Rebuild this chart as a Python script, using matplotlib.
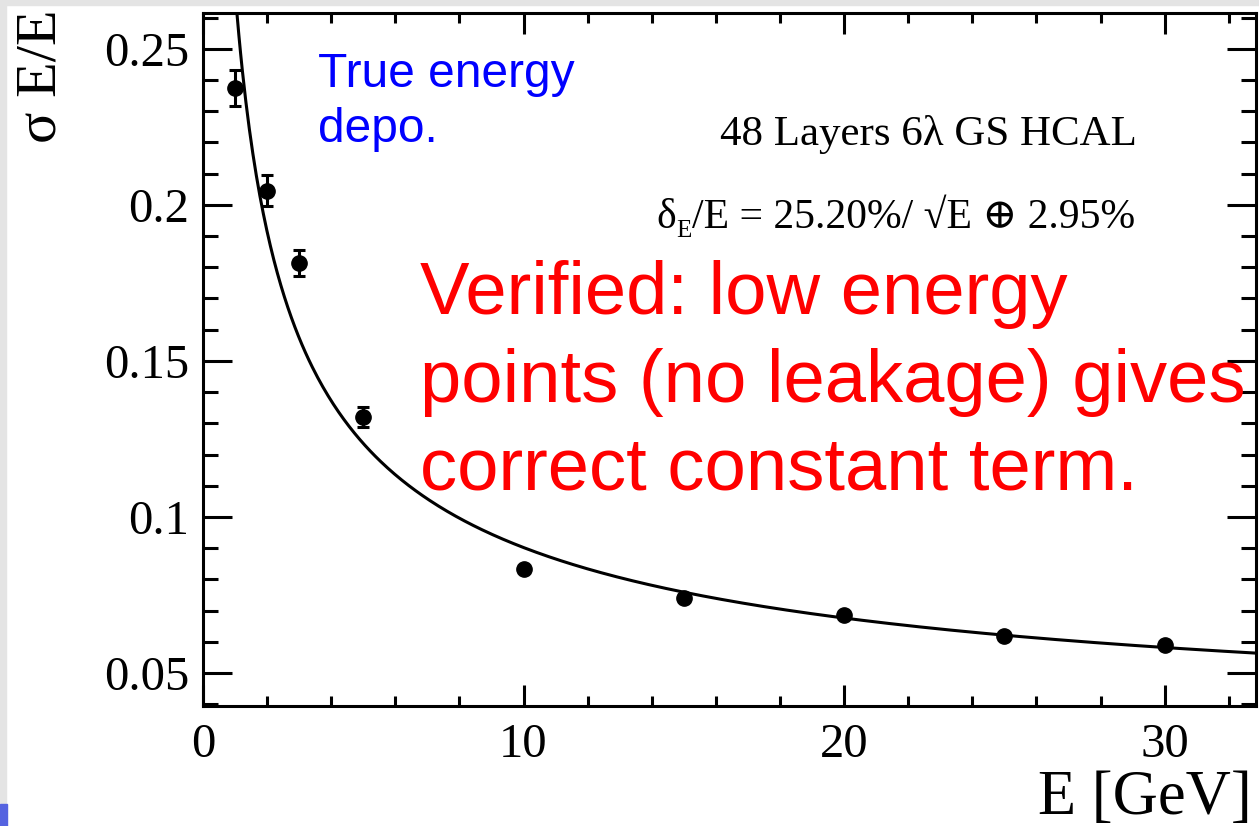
import numpy as np
import matplotlib
matplotlib.use("Agg")
import matplotlib.pyplot as plt
from matplotlib.patches import Rectangle

# data
energy = [1, 2, 3, 5, 10, 15, 20, 25, 30]
resolution = [0.2375, 0.2045, 0.1814, 0.132, 0.0833, 0.074, 0.0686, 0.0618, 0.059]
res_err = [0.0058, 0.0050, 0.0043, 0.0031, 0.0010, 0.0010, 0.0010, 0.0010, 0.0010]

# fit curve parameters (stochastic (+) constant), as drawn
stoch = 0.267
const = 0.0317

x_ticks = [0, 10, 20, 30]
y_ticks = [0.05, 0.1, 0.15, 0.2, 0.25]
y_tick_labels = ["0.05", "0.1", "0.15", "0.2", "0.25"]

serif = ["Liberation Serif", "DejaVu Serif"]
W, H = 1259, 826

fig = plt.figure(figsize=(W / 100, H / 100), dpi=100)
ax = fig.add_axes([203 / W, 1 - 706 / H, (1256 - 203) / W, (706 - 13) / H])

# grey frame bits from the screenshot
fig.patches.append(Rectangle((0, 1 - 5 / H), 1, 5 / H, transform=fig.transFigure,
                             color="#e4e4e4", zorder=0))
fig.patches.append(Rectangle((0, 0), 6 / W, 1, transform=fig.transFigure,
                             color="#e4e4e4", zorder=0))
fig.patches.append(Rectangle((0, 0), 7 / W, 22 / H, transform=fig.transFigure,
                             color="#5563e0", zorder=1))

xf = np.linspace(0.3, 33, 600)
yf = np.sqrt(stoch ** 2 / xf + const ** 2)
ax.plot(xf, yf, color="black", lw=2.2)

ax.errorbar(energy, resolution, yerr=res_err, fmt="o", color="black", ms=11,
            elinewidth=2.2, capsize=4, capthick=2.2)

ax.set_xlim(0, 32.85)
ax.set_ylim(0.0394, 0.2615)
ax.set_xticks(x_ticks)
ax.set_xticks(np.arange(0, 33, 2), minor=True)
ax.set_yticks(y_ticks)
ax.set_yticklabels(y_tick_labels)
ax.set_yticks(np.arange(0.04, 0.262, 0.01), minor=True)

for s in ax.spines.values():
    s.set_linewidth(2.2)
ax.tick_params(which="both", direction="in", top=True, right=True, width=2.2)
ax.tick_params(axis="y", which="major", length=21, pad=10)
ax.tick_params(axis="y", which="minor", length=10.5)
ax.tick_params(axis="x", which="major", length=15, pad=12)
ax.tick_params(axis="x", which="minor", length=7.5)
for lab in ax.get_xticklabels() + ax.get_yticklabels():
    lab.set_fontfamily(serif)
    lab.set_fontsize(35)

ax.set_xlabel("E [GeV]", fontsize=45, family=serif, ha="right", va="baseline")
ax.xaxis.set_label_coords(1252 / W, 12 / H, transform=fig.transFigure)
ax.set_ylabel("σ E/E", fontsize=42, family=serif, ha="right", va="center")
ax.yaxis.set_label_coords(42 / W, 1 - 9 / H, transform=fig.transFigure)

fig.text(318 / W, 1 - 142 / H, "True energy\ndepo.", color="blue", fontsize=34.5,
         family="Liberation Sans", va="baseline", linespacing=1.29)
fig.text(1137 / W, 1 - 145 / H, "48 Layers 6λ GS HCAL", ha="right", va="baseline",
         fontsize=31, family=serif)

# resolution formula: delta with subscript E, then the rest
main = fig.text(1135 / W, 1 - 228 / H, "/E = 25.20%/ √E ⊕ 2.95%", ha="right",
                va="baseline", fontsize=30, family=serif)
fig.canvas.draw()
r = fig.canvas.get_renderer()
x0 = main.get_window_extent(r).x0
sub = fig.text(x0 / W, 1 - 237 / H, "E", ha="right", va="baseline", fontsize=18,
               family=serif)
fig.canvas.draw()
x1 = sub.get_window_extent(r).x0
fig.text(x1 / W, 1 - 228 / H, "δ", ha="right", va="baseline", fontsize=30, family=serif)

fig.text(420 / W, 1 - 490 / H,
         "Verified: low energy\npoints (no leakage) gives\ncorrect constant term.",
         color="red", fontsize=53.5, family="Liberation Sans", va="baseline",
         linespacing=1.35)

fig.savefig("out.png", dpi=100)
